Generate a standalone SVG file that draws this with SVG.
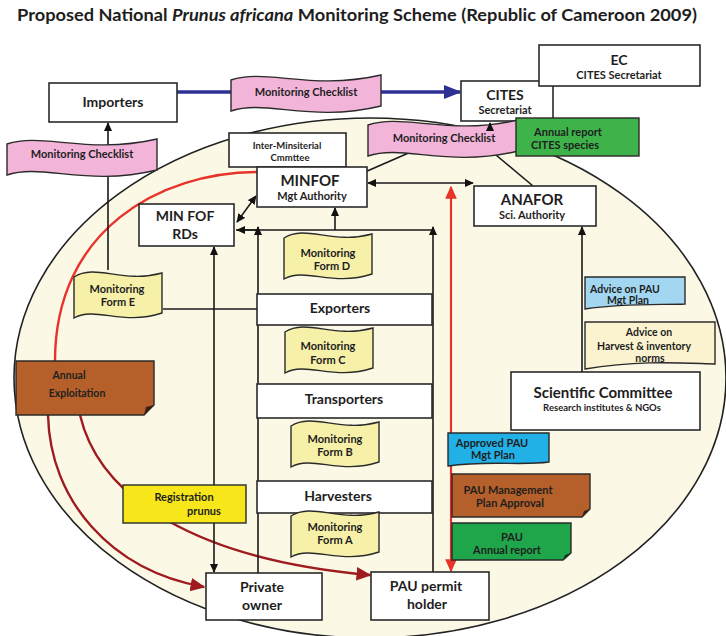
<svg xmlns="http://www.w3.org/2000/svg" xmlns:xlink="http://www.w3.org/1999/xlink" width="726" height="636" viewBox="0 0 726 636">
<style>
.box{fill:#fff;stroke:#2a2a2a;stroke-width:1.6}
.t{font-family:Lato,"Open Sans","Liberation Sans",sans-serif;font-weight:bold;fill:#1e1e1e;text-anchor:middle}
.ln{fill:none;stroke:#1a1a1a;stroke-width:1.6}
.pink{fill:#f2b4d9;stroke:#2a2a2a;stroke-width:1.4}
.yel{fill:#f7f0a9;stroke:#2a2a2a;stroke-width:1.4}
.brown{fill:#b5602a;stroke:#2a2a2a;stroke-width:1.4}
</style>
<defs>
<marker id="ah" viewBox="0 0 10 10" refX="9" refY="5" markerWidth="9" markerHeight="9" markerUnits="userSpaceOnUse" orient="auto-start-reverse"><path d="M0,0.5 L10,5 L0,9.5 Z" fill="#111"/></marker>
<marker id="ahr" viewBox="0 0 10 10" refX="9" refY="5" markerWidth="13" markerHeight="13" markerUnits="userSpaceOnUse" orient="auto-start-reverse"><path d="M0,0.5 L10,5 L0,9.5 Z" fill="#e8332a"/></marker>
<marker id="ahd" viewBox="0 0 10 10" refX="9" refY="5" markerWidth="15" markerHeight="15" markerUnits="userSpaceOnUse" orient="auto"><path d="M0,0.5 L10,5 L0,9.5 Z" fill="#9e1c1f"/></marker>
<marker id="ahb" viewBox="0 0 10 10" refX="9" refY="5" markerWidth="18" markerHeight="18" markerUnits="userSpaceOnUse" orient="auto"><path d="M0,1 L10,5 L0,9 Z" fill="#2e3192"/></marker>
<path id="ribbon" d="M0,7 C35,-5 80,18 150,2 L150,33 C80,50 35,26 0,38 Z"/>
<path id="form" d="M0,9 C22,-5 48,16 88,5 L88,45 C48,58 22,38 0,50 Z"/>
</defs>
<rect width="726" height="636" fill="#fff"/>
<text class="t" x="357" y="21" font-size="17" textLength="680" lengthAdjust="spacingAndGlyphs">Proposed National <tspan font-style="italic">Prunus africana</tspan> Monitoring Scheme (Republic of Cameroon 2009)</text>
<ellipse cx="370" cy="378" rx="356" ry="260" fill="#fcf8e6" stroke="#222" stroke-width="1.6"/>

<g id="connectors">
<path d="M258,172 C160,172 55,230 55,361" fill="none" stroke="#e8332a" stroke-width="2.4"/>
<path d="M48,415 C50,500 110,570 204,587" fill="none" stroke="#9e1c1f" stroke-width="2.4" marker-end="url(#ahd)"/>
<path d="M80,415 C100,500 200,560 370,575" fill="none" stroke="#9e1c1f" stroke-width="2.4" marker-end="url(#ahd)"/>
<path d="M177,92 H232" stroke="#2e3192" stroke-width="3.5" fill="none"/>
<path d="M380,92 H460" stroke="#2e3192" stroke-width="3.5" fill="none" marker-end="url(#ahb)"/>
<path class="ln" d="M108,270 V123" marker-end="url(#ah)"/>
<path class="ln" d="M163,309 H257"/>
<path class="ln" d="M365,172 L420,148"/>
<path class="ln" d="M490,150 L533,186"/>
<path class="ln" d="M368,183 H473" marker-start="url(#ah)" marker-end="url(#ah)"/>
<path d="M451,187 V571" stroke="#e8332a" stroke-width="2.2" fill="none" marker-start="url(#ahr)" marker-end="url(#ahr)"/>
<path class="ln" d="M237,222 L256,196" marker-start="url(#ah)" marker-end="url(#ah)"/>
<path class="ln" d="M236,230 H433"/>
<path class="ln" d="M258,230 H237" marker-end="url(#ah)"/>
<path class="ln" d="M335,230 V208" marker-end="url(#ah)"/>
<path class="ln" d="M258,573 V227" marker-end="url(#ah)"/>
<path class="ln" d="M433,572 V227" marker-end="url(#ah)"/>
<path class="ln" d="M214,247 V572" marker-start="url(#ah)" marker-end="url(#ah)"/>
<path class="ln" d="M582,372 V227" marker-end="url(#ah)"/>
</g>

<g id="importers"><rect class="box" x="49" y="83" width="128" height="39"/><text class="t" x="113" y="107" font-size="14">Importers</text></g>
<g id="checklist-top"><use href="#ribbon" x="231" y="73" class="pink"/><text class="t" x="306" y="96" font-size="11">Monitoring Checklist</text></g>
<g id="checklist-left"><use href="#ribbon" x="7" y="137" class="pink"/><text class="t" x="82" y="158" font-size="11">Monitoring Checklist</text></g>
<g id="cites"><rect class="box" x="461" y="81" width="92" height="40"/><text class="t" x="505" y="100" font-size="14">CITES</text><text class="t" x="505" y="114" font-size="11">Secretariat</text></g>
<g id="ec"><rect class="box" x="539" y="45" width="161" height="41"/><text class="t" x="619" y="65" font-size="14">EC</text><text class="t" x="619" y="79" font-size="11">CITES Secretariat</text></g>
<g id="checklist-mid"><use href="#ribbon" x="368" y="118" class="pink"/><text class="t" x="444" y="142" font-size="11">Monitoring Checklist</text>
<path class="ln" d="M490,128 V123" marker-end="url(#ah)"/></g>
<g id="annual-report"><rect x="516" y="118" width="123" height="38" fill="#3db34a" stroke="#2a2a2a" stroke-width="1.4"/><text class="t" x="568" y="136" font-size="11" fill="#10301a">Annual report</text><text class="t" x="565" y="149" font-size="11">CITES species</text></g>
<g id="inter-ministerial"><rect class="box" x="229" y="133" width="117" height="34"/><text class="t" x="287" y="149" font-size="9.5">Inter-Minsiterial</text><text class="t" x="290" y="161" font-size="9.5">Cmmttee</text></g>
<g id="minfof"><rect class="box" x="257" y="167" width="110" height="40"/><text class="t" x="310" y="186" font-size="15">MINFOF</text><text class="t" x="312" y="200" font-size="11">Mgt Authority</text></g>
<g id="minfof-rds"><rect class="box" x="139" y="204" width="95" height="42"/><text class="t" x="185" y="221" font-size="14">MIN FOF</text><text class="t" x="185" y="239" font-size="14">RDs</text></g>
<g id="anafor"><rect class="box" x="474" y="186" width="122" height="40"/><text class="t" x="532" y="205" font-size="15">ANAFOR</text><text class="t" x="532" y="219" font-size="11">Sci. Authority</text></g>
<g id="form-d"><use href="#form" x="284" y="229" class="yel"/><text class="t" x="328" y="257" font-size="11">Monitoring</text><text class="t" x="332" y="270" font-size="11">Form D</text></g>
<g id="exporters"><rect class="box" x="257" y="294" width="175" height="31"/><text class="t" x="340" y="313" font-size="14">Exporters</text></g>
<g id="form-c"><use href="#form" x="285" y="323" class="yel"/><text class="t" x="328" y="350" font-size="11">Monitoring</text><text class="t" x="328" y="364" font-size="11">Form C</text></g>
<g id="transporters"><rect class="box" x="257" y="384" width="175" height="34"/><text class="t" x="344" y="404" font-size="14">Transporters</text></g>
<g id="form-b"><use href="#form" x="291" y="417" class="yel"/><text class="t" x="335" y="443" font-size="11">Monitoring</text><text class="t" x="335" y="456" font-size="11">Form B</text></g>
<g id="harvesters"><rect class="box" x="257" y="481" width="175" height="32"/><text class="t" x="338" y="501" font-size="14">Harvesters</text></g>
<g id="form-a"><use href="#form" x="291" y="507" class="yel"/><text class="t" x="335" y="531" font-size="11">Monitoring</text><text class="t" x="335" y="544" font-size="11">Form A</text></g>
<g id="form-e"><use href="#form" x="74" y="268" class="yel"/><text class="t" x="117" y="293" font-size="11">Monitoring</text><text class="t" x="118" y="306" font-size="11">Form E</text></g>
<g id="annual-exploitation"><path class="brown" d="M16,361 H154 V405 L144,415 H16 Z"/><path d="M154,405 L144,415 L146,407 Z" fill="#3a2010"/><text class="t" x="69" y="379" font-size="10.5" fill="#2a1608">Annual</text><text class="t" x="77" y="397" font-size="10.5" fill="#2a1608">Exploitation</text></g>
<g id="registration"><rect x="123" y="485" width="123" height="38" fill="#f6e61a" stroke="#2a2a2a" stroke-width="1.4"/><text class="t" x="184" y="501" font-size="11">Registration</text><text class="t" x="204" y="515" font-size="11">prunus</text></g>
<g id="private-owner"><rect class="box" x="206" y="573" width="116" height="47"/><text class="t" x="262" y="592" font-size="14">Private</text><text class="t" x="262" y="610" font-size="14">owner</text></g>
<g id="pau-permit-holder"><rect class="box" x="371" y="572" width="118" height="48"/><text class="t" x="426" y="591" font-size="14">PAU permit</text><text class="t" x="427" y="609" font-size="14">holder</text></g>
<g id="approved-pau"><path d="M448,433 H549 V462 C520,466 490,460 448,466 Z" fill="#22b1e6" stroke="#2a2a2a" stroke-width="1.4"/><text class="t" x="492" y="447" font-size="11">Approved PAU</text><text class="t" x="493" y="459" font-size="11">Mgt Plan</text></g>
<g id="pau-plan-approval"><path class="brown" d="M452,474 H590 V509 L582,517 H452 Z"/><path d="M590,509 L582,517 L584,511 Z" fill="#3a2010"/><text class="t" x="508" y="494" font-size="11">PAU Management</text><text class="t" x="510" y="507" font-size="11">Plan Approval</text></g>
<g id="pau-annual-report"><path d="M452,523 H571 V553 L563,560 H452 Z" fill="#1fa64b" stroke="#2a2a2a" stroke-width="1.4"/><path d="M571,553 L563,560 L565,555 Z" fill="#10301a"/><text class="t" x="512" y="541" font-size="11">PAU</text><text class="t" x="507" y="554" font-size="11">Annual report</text></g>
<g id="advice-pau"><path d="M585,277 H685 V304 C660,305 625,303 585,309 Z" fill="#a3d7f1" stroke="#2a2a2a" stroke-width="1.4"/><text class="t" x="625" y="293" font-size="10.5">Advice on PAU</text><text class="t" x="628" y="304" font-size="10.5">Mgt Plan</text></g>
<g id="advice-harvest"><path d="M585,322 H715 V364 C680,363 640,360 585,369 Z" fill="#fbf3cf" stroke="#2a2a2a" stroke-width="1.4"/><text class="t" x="649" y="336" font-size="10.5">Advice on</text><text class="t" x="644" y="350" font-size="10.5">Harvest &amp; inventory</text><text class="t" x="650" y="362" font-size="10.5">norms</text></g>
<g id="scientific-committee"><rect class="box" x="511" y="372" width="189" height="58"/><text class="t" x="603" y="398" font-size="15">Scientific Committee</text><text class="t" x="602" y="411" font-size="9.5">Research institutes &amp; NGOs</text></g>
</svg>
